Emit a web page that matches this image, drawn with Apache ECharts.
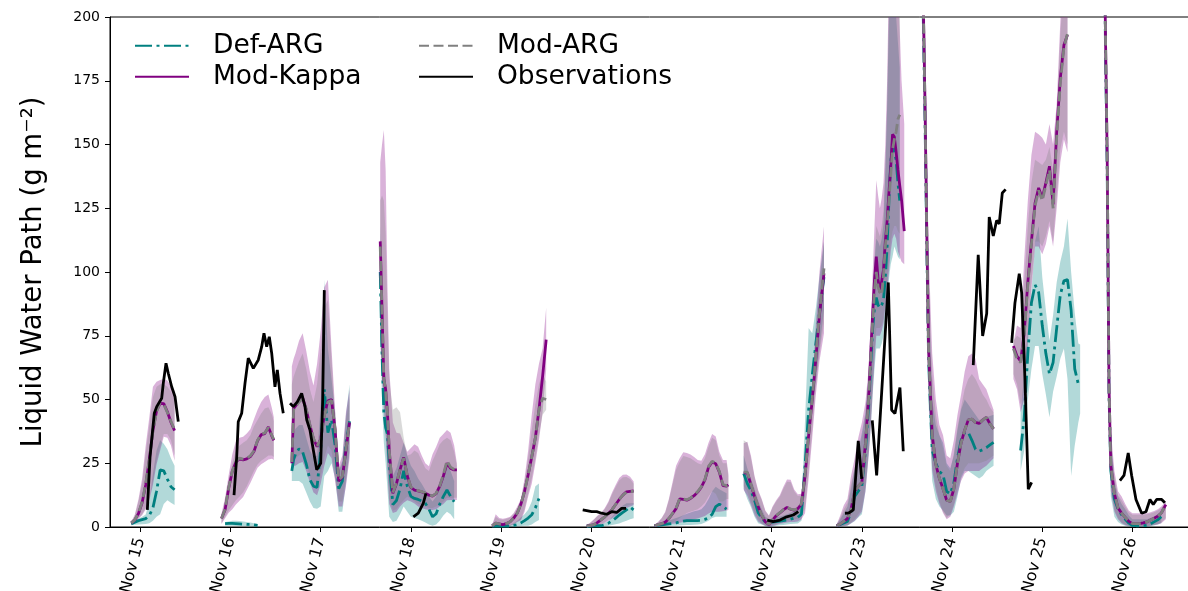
<!DOCTYPE html>
<html>
<head>
<meta charset="utf-8">
<script src="https://cdn.jsdelivr.net/npm/echarts@6/dist/echarts.min.js"></script>
<style>html,body{margin:0;padding:0;background:#fff}#c{width:1188px;height:591px}</style>
</head>
<body>
<div id="c"></div>
<script>
// time in decimal day of November; values in g m-2
const dayTicks = [15,16,17,18,19,20,21,22,23,24,25,26];

const segTime = [
 [14.90,14.94,14.98,15.02,15.06,15.10,15.14,15.18,15.22,15.26,15.30,15.34,15.38],
 [15.90,15.94,15.98,16.02,16.06,16.10,16.14,16.18,16.22,16.26,16.30,16.34,16.38,16.42,16.46,16.48],
 [16.68,16.70,16.72,16.76,16.80,16.84,16.88,16.92,16.96,17.00,17.04,17.08,17.12,17.16,17.20,17.24,17.28,17.32],
 [17.66,17.68,17.70,17.72,17.74,17.76,17.80,17.84,17.88,17.92,17.96,18.00,18.04,18.08,18.12,18.16,18.20,18.24,18.28,18.32,18.36,18.40,18.44,18.48,18.51],
 [18.90,18.94,18.98,19.02,19.06,19.10,19.14,19.18,19.22,19.26,19.30,19.34,19.38,19.42,19.46,19.50],
 [19.95,19.99,20.03,20.07,20.11,20.15,20.19,20.23,20.27,20.31,20.35,20.39,20.43,20.47],
 [20.70,20.74,20.78,20.82,20.86,20.90,20.94,20.98,21.02,21.06,21.10,21.14,21.18,21.22,21.26,21.30,21.34,21.38,21.42,21.46,21.50,21.52],
 [21.69,21.73,21.77,21.81,21.85,21.89,21.93,21.97,22.01,22.05,22.09,22.13,22.17,22.21,22.25,22.29,22.33,22.37,22.41,22.45,22.49,22.53,22.58],
 [22.72,22.76,22.80,22.84,22.88,22.92,22.96,23.00,23.04,23.08,23.10,23.12,23.14,23.16,23.18,23.20,23.22,23.24,23.26,23.28,23.30,23.32,23.34,23.36,23.38,23.40,23.42,23.44,23.47],
 [23.66,23.68,23.70,23.72,23.74,23.78,23.82,23.86,23.90,23.94,23.98,24.02,24.06,24.10,24.14,24.18,24.22,24.26,24.30,24.34,24.38,24.42,24.46],
 [24.68,24.72,24.76,24.80,24.84,24.88,24.92,24.96,25.00,25.04,25.08,25.12,25.16,25.20,25.24,25.28,25.32,25.36,25.40,25.42],
 [25.68,25.70,25.72,25.74,25.76,25.80,25.84,25.88,25.92,25.96,26.00,26.04,26.08,26.12,26.16,26.20,26.24,26.28,26.32,26.37]
];

const modKappa = [
 [1.6,2.8,5.3,9.5,16.5,26.4,37.9,45.5,48.5,48.4,45.2,41.1,37.8],
 [3.3,6.8,15.2,21.8,25.5,26.8,26.3,26.7,27.6,29.6,33.8,36.2,36.6,39.2,35.5,34],
 [25,46.5,46.8,49.3,50.6,46,40,34.5,31.5,34.5,44,49.5,50,38,18,19.5,30,41],
 [112,85,58,54,45,30,13.2,17,22.5,27.3,20,15.5,14.5,14.2,13.8,13.2,12.5,12.1,13.1,16,20,25,23,22.4,22.4],
 [0.4,1.5,1.2,0.9,1.4,2.1,3.5,5.5,9,14,20.5,27.5,35,46,59,73.5],
 [0.4,0.6,0.9,1.8,2.9,4,5.3,6.8,8.8,10.8,12.5,13.8,14,14.2],
 [0.5,0.9,1.3,1.9,3.3,5.2,7.2,11,10.8,10.5,11.2,12.3,13.7,15.6,18.5,23.5,25.5,24.8,21.5,16.2,16,16.5],
 [21.1,21.3,16.5,12,8,4.5,2,0.9,2.8,4.4,5.5,6.7,7.7,6.9,6.6,7.2,9,20,36,50,66,83,99.5],
 [0.5,1.2,2.2,3.3,7,14,16,17.5,33,54,70,84,97,106,97,92,91.8,101,112,120,131,141,154,153,147,140,134,128.3,116],
 [262,207,166,115,69,36,24.5,19,15,10.5,10,15,25,33,38,42,42.3,41,40.6,42,43,40.5,38.5],
 [71,67,65,76,96,112,127,133,129,135,141.5,126.5,155,176,189,193,null,null,null,null],
 [278,195,145,55,24,13,7.5,5.4,3.8,2.2,1.3,1.3,1.3,1.6,2,2.7,3.4,4.2,5.5,8.8]
];
const modKappaLo = [
 [0.7,1.5,3.2,4.6,7,10.5,16.5,24.5,30,35.4,35,32,26],
 [1.2,3.4,5.6,7,8.8,10.3,11.8,14.5,17.3,20.3,23.2,24.6,25.5,26.5,26.8,26.3],
 [21,24,24,25,25.5,22,17.5,13.5,12.5,17,24,29,27,18,8,8,16,27],
 [74,60,47,36,22,9,5.5,6,8,9.5,10.5,10,9.2,8,7.5,7,6.7,6.7,7,8,9,10.5,10.6,10.6,10.6],
 [0,0.5,0.4,0.3,0.4,0.5,1,2,2.6,6,12,17,25,34,45,62],
 [0,0.2,0.5,0.8,1,1.6,2.5,3.3,4.3,5.5,6.5,7.5,8,8.6],
 [0.4,0.5,0.7,0.9,1.1,1.3,1.4,1.7,2,2.2,2.6,3,3.3,3.8,4.3,5.3,6,6,6,6.2,6.5,6.7],
 [14.5,12.3,8.7,4.7,2.2,1.2,0.5,0,0.4,0.8,1.3,1.5,1.8,2,2,2.2,3,5.4,19,35,52,65,76],
 [0,0.2,0.4,0.6,1.5,2.5,4,6,14,30,40,53,65,75,75,75,77,80,86,92,100,108,113,115,113,108,106,104,103],
 [240,190,150,100,52,22,14,9,5.5,3,4,8,13,18,21,22,22,22,22,23,24,25.5,27],
 [58,54,45,50,72,93,110,110,107,111,118,110,125,143,152,147,null,null,null,null],
 [258,180,128,42,14,6,3,1.5,0.7,0.4,0.3,0.3,0.3,0.3,0.3,0.5,0.8,1,1.5,3]
];
const modKappaHi = [
 [2,5,11,19,32,43,55,57,57.6,58,57.5,55.4,53.2],
 [5.2,11.5,20.5,28.5,33.8,35,35.4,36.7,38.3,42.3,46,49,51,52,46.5,43],
 [63,66,68,73,76,69,61,55.5,64,77,94,97,70,46,24,28,45,54],
 [143,150,155.7,140,95,62,41,37,36.7,33,29.5,31,32.5,31.5,28,25,23.8,28.5,31.5,35,36.5,38,37,32,25],
 [0.8,5,3.5,3.2,3.5,4,5.5,8,11,19,30,44,56,64,70,86],
 [0.8,1.8,3,4.5,5.6,7.5,10,13.5,16.5,19.2,20.5,20.6,19.7,17.8],
 [0.8,2,3.5,6,11,17.5,24,27,29.3,29,28.4,27.5,26.3,26,28.5,33,36.5,35.5,29.5,26.3,26.3,21],
 [32.8,33.4,28,20,14.5,11,6.5,4.5,8,10.5,12.5,15.8,18.6,18.5,14.7,12.8,13,26,38,55,80,100,117.8],
 [1,4.5,8.5,11,20,27,35,41,49,64,76,100,118,136,130,125,129,135,150,175,215,230,230,230,222,212,195,175,158],
 [282,240,200,150,108,68,50,40,36,28,27,34,44,52,61,67,68,66,58,56,54,50,46],
 [72,79,78,105,128,146,155,154,152.6,150,158,150,166,198,224,230,null,null,null,null],
 [300,212,160,72,38,22,14,12,9,6.5,5.4,5.4,5.4,5.4,5.4,5.8,6.3,7,8,10]
];

const modArg = [
 [1.6,2.9,5.5,9.8,17,26.8,37.6,45.2,48.8,48.1,44.9,41.4,38.2],
 [3.3,7,15.5,22,25.8,27,26.6,27,27.9,29.9,34,36.4,36.9,39,35.8,34.4],
 [25.5,46,46.5,49,50.3,46.2,40.3,34.8,31.8,34.2,43.5,49,49.6,38.5,18.5,19.8,30.3,41],
 [110,84,58,54,45,30,13.5,17.2,22.7,27,20.2,15.7,14.6,14.3,13.9,13.3,12.6,12.2,13.2,16.2,20.5,26,23.5,22.6,22.4],
 [0.4,1.5,1.2,0.9,1.4,2.1,3.5,5.5,9,14,20.5,27.5,35,46,50.5,50],
 [0.4,0.6,0.9,1.8,2.9,4,5.3,6.8,8.8,10.8,12.5,13.6,13.9,14],
 [0.5,0.9,1.3,1.9,3.3,5.3,7.4,11.2,11,10.7,11.4,12.5,13.9,15.8,18.8,23.8,25.8,25,21.8,16.6,16.2,16.6],
 [21.5,21.5,16.8,12.2,8.2,4.7,2.1,1.0,2.9,4.5,5.6,6.8,7.8,7,6.7,7.3,9.2,20.5,36.5,50.5,67,84,101.4],
 [0.5,1.2,2.2,3.3,7,14,16,17.5,32.5,53,68,81,93,100,94,92,91,99,110,118,128,138,148,152,155,160,161.7,null,null],
 [260,207,165,114,68,36,24.5,19,15,10.5,10,15,25,33,38,42,42.3,41,40.6,42,43,40.5,38.5],
 [70,66,64.5,75,95,111,126,132,128,134,140,125,153,174,188,193.6,null,null,null,null],
 [278,195,145,55,24,13,7.5,5.4,3.8,2.2,1.3,1.3,1.3,1.6,2,2.7,3.4,4.2,5.5,8.8]
];
const modArgLo = [
 [0.8,1.7,3.5,5,7.5,11,18,26,31.5,36.5,36.5,34,28],
 [1.5,4,6.5,8.5,10.5,12,13.5,16,19,22,24.5,26,27,28,28,27.5],
 [24,27,27,28,29,25,20,16,15,20,27,32,30,20,10,10,19,30],
 [78,62,50,38,25,11,6.5,7,9,10.5,12,11,10,9,8.5,8,7.5,7.5,8,9,10,11.5,11.5,11.5,11.5],
 [0,0.6,0.5,0.4,0.5,0.6,1.2,2.3,3,7,13,19,27,36,44,46],
 [0,0.3,0.6,0.9,1.2,1.9,2.8,3.8,5,6.2,7.3,8.2,8.8,9],
 [0.4,0.6,0.8,1.1,1.4,1.8,2.5,3.5,4.5,5.5,6,6.5,7,8,9.5,12,14,13,10,10,11,11],
 [16,14,10,6,3,1.5,0.6,0.3,0.8,1.2,1.7,2,2.4,2.8,3,3.2,3.8,7,22,38,55,68,80],
 [0,0.2,0.5,0.8,1.8,3,5,7,16,32,43,56,68,78,78,78,79,82,88,96,104,112,116,118,118,116,115,null,null],
 [242,192,152,102,55,24,16,10,6,3.5,5,9,15,20,23,25,25,25,25,25.5,26,27,28],
 [60,56,48,53,75,96,112,112,110,114,120,112,130,148,155,150,null,null,null,null],
 [262,183,131,45,16,7,3.5,1.8,0.9,0.5,0.4,0.4,0.4,0.4,0.4,0.6,0.9,1.2,1.8,3.5]
];
const modArgHi = [
 [1.8,4.5,10,17,29,40,51,55,56,56,55,53,50],
 [4.8,10,18,25,30,32,33,34,36,39.5,42,44.5,46.5,47,44,41.5],
 [56,59,61,65,68,62,54,49,56,70,86,89,66,43,22,25,42,51],
 [128,130,128,115,85,58,46,47,45,35,28,28.5,30,29,26,23,22,26,29,32.5,34,35,34,29.5,24],
 [0.8,4,3,2.8,3.2,3.7,5,7.5,10.5,17.5,27,38,48,56,60,57],
 [0.8,1.7,2.9,4.3,5.3,7.1,9.5,12.8,15.7,18.2,19.5,19.6,18.8,17],
 [0.8,1.9,3.3,5.6,10.4,16.5,22.5,25.5,27.8,27.5,27,26,25,24.5,27,31.5,35,34,28,25,25,20],
 [34,33,27,19.5,14,10.5,6.2,4.3,7.6,10,11.9,15,17.7,17.6,14,12.2,12.4,24,36,52,76,95,112],
 [1,3.5,7,9.5,17,23,30,35,44,60,70,90,105,118,116,114,118,124,140,165,205,225,230,230,225,210,200,null,null],
 [278,235,195,145,100,60,44,36,31,24,22,29,39,47,54,58,60,58,55,52,50,47,45],
 [73,75,74,96,118,135,144,143,142,144,149,140,160,193,215,225,null,null,null,null],
 [295,208,157,68,35,20,12.5,10.5,8,5.8,4.8,4.8,4.8,4.8,5,5.3,5.8,6.5,7.5,9.5]
];

const defArg = [
 [1.3,1.9,2.5,2.9,3.3,4.5,7.5,14,22.4,22,18.8,15.8,14.6],
 [null,1.3,1.4,1.4,1.3,1.2,1.1,1.0,1.0,0.8,0.6,null,null,null,null,null],
 [22,26.5,28.5,30.7,29.4,24.7,18.6,16,15.5,30.5,54,37,42,32,15,18,32,41.5],
 [100,68,45,39,36.5,25,8.8,10.4,15,22,16,12,11.2,10.8,10.2,9.3,7,4,5.2,9,12,14.5,12,9.9,null],
 [0.4,0.4,0.4,0.4,0.4,0.4,0.6,0.9,1.6,2.5,3.5,4.8,7.5,11.2,null,null],
 [0.3,0.4,0.45,0.5,0.5,0.9,1.5,2.4,3.5,4.7,5.7,6.7,7.8,6.7],
 [0.5,0.6,0.8,1.0,1.2,1.35,1.6,2,2.3,2.5,2.5,2.5,2.5,2.6,3,3.6,5,8,9,8,7,null],
 [21,17,14.3,10.5,5.6,3.5,1.9,1.6,1.9,2.1,2.3,2.5,2.7,3.1,3.5,3.8,5,24,46,59.5,72,84,98],
 [0.5,1,1.6,2.2,6,12,14,16,30,50,65,78,86,90,87,86,87,89,98,110,128,143,150,147,144,135,128,null,null],
 [257,201,160,110,65,30,25,21.7,20.5,14,13,17.3,27,34,37.1,37.1,34,30.5,29.7,30.3,31.1,32.2,33.2],
 [null,null,30,43,68,88,95,92,79,68,60,64.5,78,91,96.5,97,85,62,56,55],
 [275,190,140,52,22,11,7,4.8,3,1.5,0.6,0.5,0.5,0.5,0.6,1.2,2,2.8,4,null]
];
const defArgLo = [
 [0.7,0.9,1.0,1.1,1.2,1.5,2.5,4,5,9,10.5,9.5,8.6],
 [null,0.5,0.5,0.5,0.4,0.4,0.4,0.3,0.3,0.2,0.2,null,null,null,null,null],
 [18,18,18,18,17,13.5,10,7.5,7.2,8,20,22,25,19,6,6,17,29],
 [78,50,33,25,15,4,2,2.5,5,8,6,4,3.5,3,2.5,1.8,1,0.5,1,2.5,4.5,6,5,3,null],
 [0,0,0,0,0,0,0.1,0.2,0.4,0.5,0.5,1,2,2.7,null,null],
 [0,0,0,0.1,0.2,0.3,0.5,0.8,1.1,1.4,2,2.5,3,3.4],
 [0.2,0.3,0.3,0.4,0.4,0.5,0.5,0.6,0.7,0.8,0.8,0.9,1,1.2,1.8,2.5,3.5,4,4,4,4,null],
 [15,11,7.8,4,1.5,1,0.3,0,0.2,0.5,0.7,0.8,1,1.2,1.3,1.4,2.5,14,34,47,57,70,85],
 [0,0.1,0.3,0.5,1.4,2.3,3.7,5,14,30,40,52,62,70,70,70,72,75,82,88,97,103,106,110,108,106,105,null,null],
 [233,185,145,95,48,18,11,8,6.5,4.5,4.5,6,12,19,22,22,21,20,19,20,22,23,24],
 [null,null,22,30,50,62,71,71,60,52,43,53,59,66,70,58,20,32,41,44.5],
 [255,176,125,38,12,4,2,1,0.5,0.2,0,0,0,0,0,0.3,0.6,1,1.5,null]
];
const defArgHi = [
 [1.7,2.4,3.2,4,4.9,10,21,30,34,32.6,30.5,27,24],
 [null,2,2.2,2.5,2.5,2.4,2.2,2,1.8,1.5,1.2,null,null,null,null,null],
 [35,37,38.5,40,40,35,30,27.5,28,48,97,70,58,45,22,26,44,56],
 [118,85,66,58,48,32,20,23,28,33,28,24,22,19,17,14.5,12,10,12,17,21,24,22,18,null],
 [0.8,0.8,0.8,0.8,0.8,0.8,1.5,2.5,3.8,5,6.8,10,16,17.1,null,null],
 [0.8,0.8,0.8,1,1.2,1.6,2.5,4,5.5,7.3,8.4,9.3,9.3,9.3],
 [0.8,1,1.5,2,2.5,3,3.5,4,4.6,5.2,5.7,6.2,6.5,7,8.5,11,14,15.8,14.8,14,13.2,null],
 [28,23,19,15,10.5,7,4,3,3.3,3.8,4.1,4.5,5,5.6,6.3,6.7,9,42,78,76,86,98,112],
 [1,3,5.5,8,15,23,30,37,45,62,72,88,104,113,112,110,113,119,140,165,200,220,215,210,200,190,180,null,null],
 [272,230,190,140,93,50,40,36,33,25,23,28,38,46,50,48,46,44,42,42.5,43,43.5,44],
 [null,null,45,60,77,92,112,118,98,85,73,83,96,104,110,121,100,84,72,71.6],
 [295,205,152,65,35,18,12,9,7,4.5,3,3,3,3,3,3.5,4,5,6,null]
];

const obsTime = [
 [15.078,15.108,15.155,15.182,15.237,15.255,15.285,15.310,15.348,15.385,15.421],
 [16.039,16.069,16.086,16.124,16.161,16.197,16.253,16.308,16.346,16.371,16.401,16.430,16.457,16.493,16.519,16.549,16.585],
 [16.660,16.696,16.741,16.789,16.826,16.845,16.881,16.918,16.956,16.973,17.000,17.022,17.040],
 [18.027,18.082,18.137,18.167],
 [19.905,19.949,20.004,20.060,20.115,20.171,20.226,20.282,20.337,20.385],
 [21.951,22.018,22.092,22.166,22.239,22.295],
 [22.813,22.857,22.905,22.960,22.998],
 [23.115,23.164,23.293,23.330,23.367,23.422,23.459],
 [24.235,24.290,24.339,24.384,24.412,24.457,24.494,24.523,24.557,24.594],
 [24.661,24.697,24.745,24.772,24.808,24.845,24.882],
 [25.861,25.906,25.953,25.991,26.039,26.102,26.150,26.194,26.231,26.268,26.324,26.360]
];
const obsLwp = [
 [6.7,27.6,44.6,47.2,50.5,56.4,64.2,60.3,55,51.1,41.3],
 [12.5,27.6,41.3,44.6,56.4,66.2,62.2,65.5,70.7,76,70.7,74.6,68.1,55,61.6,52.4,44.6],
 [48.5,47.2,49.1,52.4,47.2,42,38,30.2,22.4,22.4,25,49.8,92.9],
 [4,5.4,9.3,13.2],
 [6.7,6.4,6,6,5.4,5,6,5.7,7.3,7.3],
 [2.7,2.1,2.7,4,4.7,6],
 [5.4,5.5,6.7,33.8,18.9],
 [41.8,20.2,95.9,45.9,44.5,54.7,29.7],
 [63.5,106.7,74.9,83.7,121.6,114.1,120.2,118.9,131,132.4],
 [72.2,87.8,99.3,91.8,58.1,14.8,17.5],
 [18.2,20.2,29,20.2,10.8,5.4,6,10.8,8.8,10.8,10.8,9.5]
];

const FONT = 'DejaVu Sans';

function lineData(times, vals) {
  const out = [];
  times.forEach((seg, i) => {
    if (i > 0) out.push([(times[i - 1][times[i - 1].length - 1] + seg[0]) / 2, null]);
    seg.forEach((t, j) => out.push([t, vals[i][j] == null ? null : vals[i][j]]));
  });
  return out;
}

function bandSeries(lo, hi, color) {
  return {
    type: 'custom',
    silent: true,
    clip: true,
    z: 1,
    dimensions: ['t', 'v', 'seg'],
    encode: { x: 0, y: 1 },
    data: segTime.map((s, i) => [s[0], 0, i]),
    renderItem: function (params, api) {
      const i = api.value(2);
      const ts = segTime[i];
      const children = [];
      let run = [];
      const flush = function () {
        if (run.length > 1) {
          const top = run.map(j => api.coord([ts[j], hi[i][j]]));
          const bot = run.slice().reverse().map(j => api.coord([ts[j], lo[i][j]]));
          children.push({ type: 'polygon', shape: { points: top.concat(bot) }, style: { fill: color } });
        }
        run = [];
      };
      ts.forEach((t, j) => {
        if (lo[i][j] == null || hi[i][j] == null) flush(); else run.push(j);
      });
      flush();
      return { type: 'group', children: children };
    }
  };
}

function lineSeries(name, data, color, type) {
  return {
    name: name, type: 'line', data: data, symbol: 'none', showSymbol: false,
    connectNulls: false, clip: true, z: 3, animation: false,
    lineStyle: { color: color, width: 2.8, type: type || 'solid', cap: 'butt' },
    itemStyle: { color: color }
  };
}

const legendBase = {
  orient: 'vertical', top: 32, padding: 0,
  itemWidth: 54, itemHeight: 14, itemGap: 3.5,
  itemStyle: { color: 'rgba(0,0,0,0)', borderColor: 'rgba(0,0,0,0)', borderWidth: 0, opacity: 0 },
  textStyle: { fontSize: 26.5, lineHeight: 27.5, fontFamily: FONT, color: '#000', padding: [0, 0, 0, 19] }
};

const chart = echarts.init(document.getElementById('c'), null, { renderer: 'canvas' });
chart.setOption({
  animation: false,
  backgroundColor: '#fff',
  grid: {
    left: 110, top: 17, width: 1080, height: 510, outerBoundsMode: 'none', containLabel: false,
    show: true, borderColor: '#000', borderWidth: 1, backgroundColor: 'transparent'
  },
  legend: [
    Object.assign({}, legendBase, { data: ['Def-ARG', 'Mod-Kappa'], left: 134 }),
    Object.assign({}, legendBase, { data: ['Mod-ARG', 'Observations'], left: 418 })
  ],
  xAxis: {
    type: 'value', min: 14.664, max: 26.638,
    axisLine: { show: true, lineStyle: { color: '#000', width: 1 } },
    axisTick: { show: true, customValues: dayTicks, length: 5, lineStyle: { color: '#000', width: 1 } },
    axisLabel: {
      customValues: dayTicks, rotate: 75, fontSize: 16, fontFamily: FONT, color: '#000', margin: 11,
      padding: [28, 0, 0, 0],
      formatter: v => 'Nov ' + Math.round(v)
    },
    splitLine: { show: false }
  },
  yAxis: {
    type: 'value', min: 0, max: 200, interval: 25,
    axisLine: { show: true, lineStyle: { color: '#000', width: 1 } },
    axisTick: { show: true, length: 5, lineStyle: { color: '#000', width: 1 } },
    axisLabel: { fontSize: 14, fontFamily: FONT, color: '#000', margin: 10 },
    splitLine: { show: false },
    name: 'Liquid Water Path (g m\u207B\u00B2)',
    nameLocation: 'middle', nameRotate: 90, nameGap: 62,
    nameTextStyle: { fontSize: 27.5, fontFamily: FONT, color: '#000' }
  },
  series: [
    bandSeries(defArgLo, defArgHi, 'rgba(0,128,128,0.3)'),
    bandSeries(modKappaLo, modKappaHi, 'rgba(128,0,128,0.3)'),
    bandSeries(modArgLo, modArgHi, 'rgba(128,128,128,0.3)'),
    lineSeries('Def-ARG', lineData(segTime, defArg), '#008080', [17, 4.5, 3, 4.5]),
    lineSeries('Mod-Kappa', lineData(segTime, modKappa), '#800080', 'solid'),
    lineSeries('Mod-ARG', lineData(segTime, modArg), '#808080', [10, 4.5]),
    lineSeries('Observations', lineData(obsTime, obsLwp), '#000000', 'solid')
  ]
});
</script>
</body>
</html>
